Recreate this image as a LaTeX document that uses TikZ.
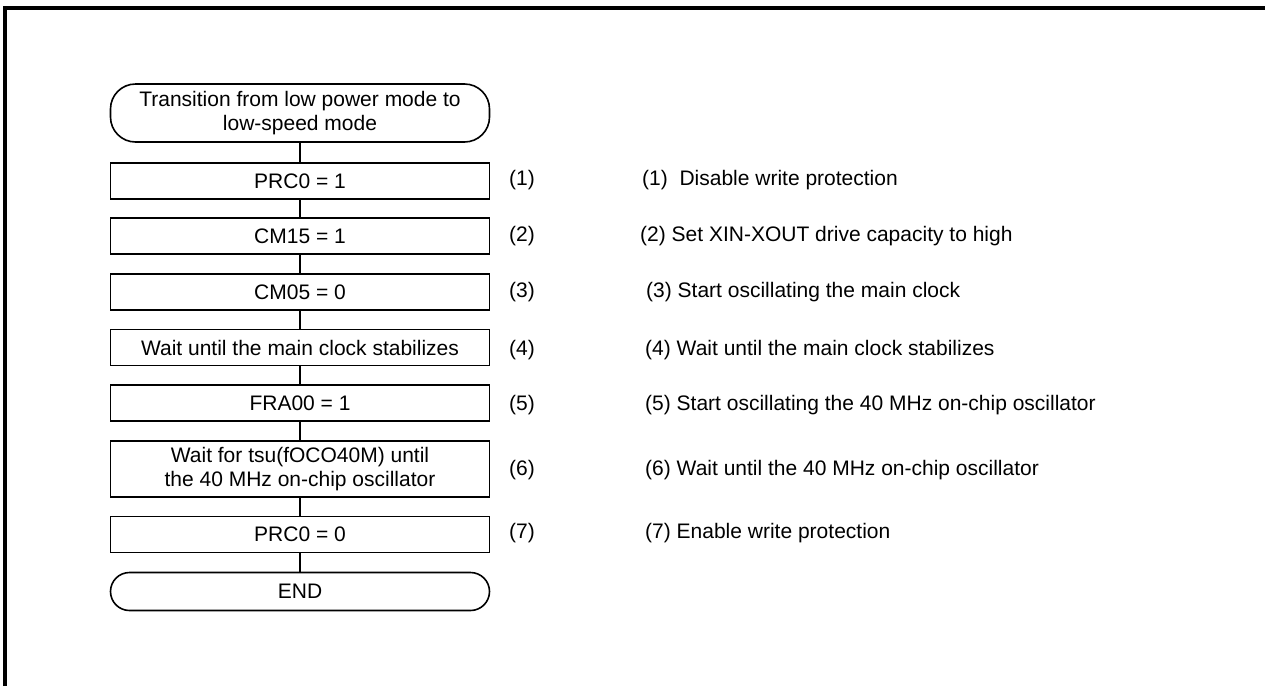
\documentclass[tikz,border=0pt]{standalone}
\usepackage{fontspec}
\setmainfont{Liberation Sans}
\begin{document}
\begin{tikzpicture}[x=1pt,y=-1pt,
	every node/.style={font=\fontsize{21}{24.5}\selectfont},
	stepbox/.style={draw,line width=1.6pt,minimum width=379pt,minimum height=36pt,inner sep=0pt,align=center},
	termbox/.style={stepbox,rounded corners=19pt},
	flowline/.style={line width=1.6pt}]
						\useasboundingbox (0,0) rectangle (1265,686);
						
						% Frame
						\draw[line width=3.5pt] (5,686) -- (5,8) -- (1265,8);
						
						% Flow chart
						\node[termbox,minimum height=58pt,rounded corners=25pt] (start) at (300,113) {Transition from low power mode to\\low-speed mode};
						\node[stepbox] (s1) at (300,181) {PRC0 = 1};
						\node[stepbox] (s2) at (300,236) {CM15 = 1};
						\node[stepbox] (s3) at (300,292) {CM05 = 0};
						\node[stepbox] (s4) at (300,347.5) {Wait until the main clock stabilizes};
						\node[stepbox] (s5) at (300,403) {FRA00 = 1};
						\node[stepbox,minimum height=56pt] (s6) at (300,469) {Wait for tsu(fOCO40M) until\\the 40 MHz on-chip oscillator};
						\node[stepbox] (s7) at (300,534.5) {PRC0 = 0};
						\node[termbox,minimum height=38pt] (stop) at (300,591.5) {END};
						
						% Connectors
						\foreach \a/\b in {start/s1,s1/s2,s2/s3,s3/s4,s4/s5,s5/s6,s6/s7,s7/stop}
						\draw[flowline] (\a) -- (\b);
						
						% Step numbers
						\foreach \i/\y in {1/180,2/236,3/292,4/350,5/405,6/470,7/533}
						\node[anchor=west,inner sep=0pt] (n\i) at (509,\y) {(\i)};
						
						% Notes
						\node[anchor=west,inner sep=0pt] (d1) at (642,180) {(1)\ \ Disable write protection};
						\node[anchor=west,inner sep=0pt] (d2) at (640,236) {(2) Set XIN-XOUT drive capacity to high};
						\node[anchor=west,inner sep=0pt] (d3) at (646,292) {(3) Start oscillating the main clock};
						\node[anchor=west,inner sep=0pt] (d4) at (645,350) {(4) Wait until the main clock stabilizes};
						\node[anchor=west,inner sep=0pt] (d5) at (645,405) {(5) Start oscillating the 40 MHz on-chip oscillator};
						\node[anchor=west,inner sep=0pt] (d6) at (645,470) {(6) Wait until the 40 MHz on-chip oscillator};
						\node[anchor=west,inner sep=0pt] (d7) at (645,533) {(7) Enable write protection};
					\end{tikzpicture}
\end{document}
